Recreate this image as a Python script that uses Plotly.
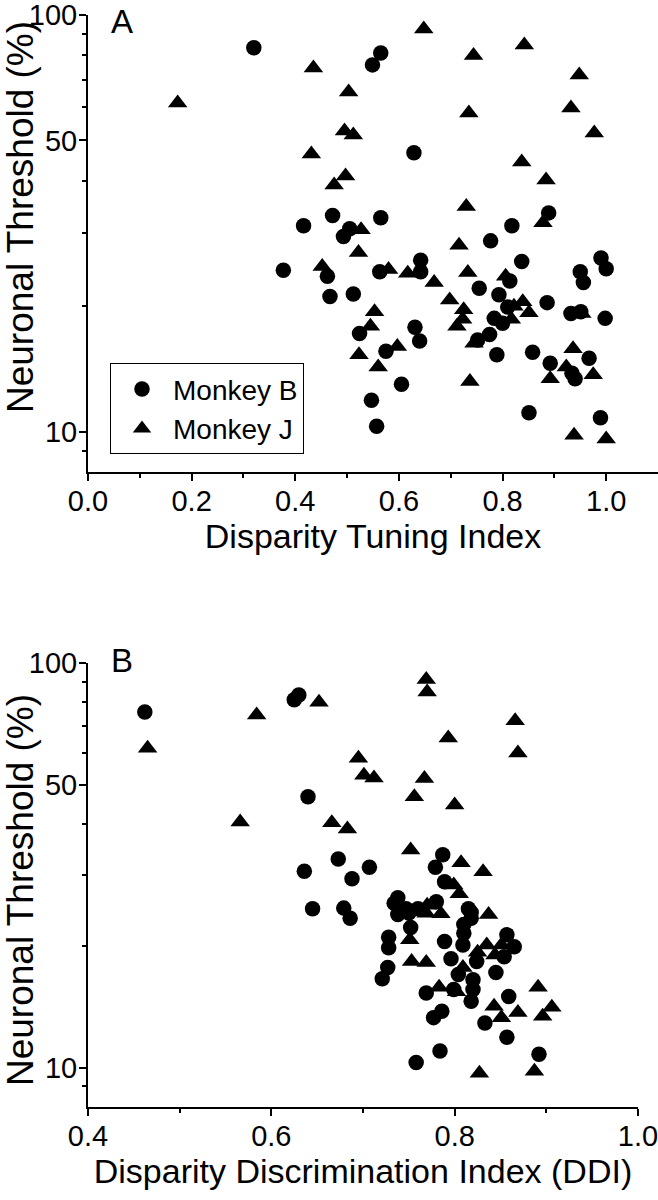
import plotly.graph_objects as go

# ---------------- Data ----------------
# Panel A: Disparity Tuning Index vs Neuronal Threshold
a_monkeyB_x = [0.32, 0.565, 0.549, 0.629, 0.416, 0.472, 0.565, 0.505, 0.493, 0.889, 0.818, 0.777,
               0.377, 0.462, 0.467, 0.512, 0.563, 0.642, 0.642, 0.755, 0.814, 0.837, 0.793, 0.81,
               0.784, 0.8, 0.886, 0.932, 0.951, 0.95, 0.956, 0.99, 1.0, 0.998, 0.524, 0.631, 0.64,
               0.575, 0.605, 0.547, 0.557, 0.752, 0.775, 0.789, 0.858, 0.892, 0.967, 0.934, 0.94,
               0.851, 0.989]
a_monkeyB_y = [83.4, 81.1, 75.9, 46.7, 31.2, 33.0, 32.6, 30.7, 29.4, 33.5, 31.2, 28.7,
               24.4, 23.6, 21.1, 21.4, 24.2, 25.8, 24.2, 22.1, 23.0, 25.6, 21.3, 19.9,
               18.7, 18.2, 20.4, 19.2, 19.4, 24.2, 22.8, 26.1, 24.6, 18.7, 17.2, 17.8, 16.5,
               15.6, 13.0, 11.9, 10.3, 16.6, 17.1, 15.3, 15.5, 14.6, 15.0, 13.8, 13.4,
               11.1, 10.8]
a_monkeyJ_x = [0.173, 0.435, 0.431, 0.475, 0.497, 0.648, 0.744, 0.842, 0.948, 0.503, 0.735, 0.932,
               0.977, 0.495, 0.512, 0.837, 0.884, 0.73, 0.878, 0.527, 0.716, 0.522, 0.452, 0.58,
               0.617, 0.668, 0.698, 0.733, 0.806, 0.839, 0.851, 0.822, 0.817, 0.953, 0.553, 0.545,
               0.597, 0.523, 0.56, 0.712, 0.725, 0.723, 0.745, 0.892, 0.936, 0.923, 0.975, 0.737,
               0.938, 1.0]
a_monkeyJ_y = [61.5, 74.6, 46.4, 39.1, 41.1, 92.6, 80.0, 84.7, 71.8, 65.3, 58.2, 59.8,
               52.1, 52.7, 51.5, 44.4, 40.2, 34.7, 31.7, 30.5, 28.0, 26.9, 24.9, 24.5,
               24.0, 22.8, 20.7, 24.1, 23.6, 20.5, 19.3, 20.0, 18.6, 19.2, 19.4, 17.9,
               16.0, 15.3, 14.3, 17.9, 19.6, 18.6, 16.3, 13.4, 15.8, 14.3, 13.7, 13.2,
               9.8, 9.6]

# Panel B: Disparity Discrimination Index vs Neuronal Threshold
b_monkeyB_x = [0.462, 0.625, 0.630, 0.64, 0.636, 0.673, 0.707, 0.688, 0.645, 0.679, 0.686, 0.787,
               0.779, 0.789, 0.738, 0.734, 0.78, 0.818, 0.738, 0.75, 0.752, 0.728, 0.728, 0.727,
               0.721, 0.789, 0.809, 0.81, 0.81, 0.857, 0.865, 0.854, 0.796, 0.804, 0.82, 0.845,
               0.769, 0.799, 0.82, 0.818, 0.859, 0.786, 0.777, 0.833, 0.857, 0.784, 0.758, 0.892,
               0.747, 0.76, 0.815, 0.818, 0.824]
b_monkeyB_y = [75.7, 81.1, 83.4, 46.7, 30.6, 32.8, 31.3, 29.3, 24.7, 24.8, 23.4, 33.6,
               31.3, 28.8, 26.3, 25.5, 25.7, 24.2, 23.9, 24.1, 22.2, 21.0, 19.8, 17.7,
               16.6, 20.5, 20.1, 21.5, 22.6, 21.3, 19.9, 18.8, 18.6, 17.0, 16.5, 17.2,
               15.3, 15.6, 15.6, 14.6, 15.0, 13.8, 13.3, 12.9, 11.9, 11.0, 10.3, 10.8,
               24.7, 24.7, 24.7, 23.4, 18.3]
b_monkeyJ_x = [0.465, 0.584, 0.652, 0.769, 0.77, 0.866, 0.793, 0.869, 0.695, 0.701, 0.712, 0.767,
               0.756, 0.8, 0.566, 0.666, 0.683, 0.752, 0.807, 0.831, 0.799, 0.805, 0.77, 0.837,
               0.785, 0.769, 0.751, 0.753, 0.769, 0.825, 0.835, 0.851, 0.844, 0.809, 0.783, 0.802,
               0.891, 0.843, 0.869, 0.906, 0.851, 0.896, 0.887, 0.827]
b_monkeyJ_y = [61.6, 74.4, 80.0, 91.0, 84.8, 72.0, 65.3, 59.9, 58.2, 52.8, 52.0, 51.8,
               46.7, 44.6, 40.5, 40.3, 38.9, 34.5, 32.1, 30.5, 28.3, 26.9, 25.2, 23.9,
               24.0, 24.1, 20.7, 18.3, 18.2, 19.3, 20.1, 20.1, 19.0, 17.7, 15.8, 15.4,
               15.8, 14.2, 13.7, 14.1, 13.3, 13.4, 9.8, 9.7]

a_xticks = [0.0, 0.2, 0.4, 0.6, 0.8, 1.0]
a_xtick_text = ["0.0", "0.2", "0.4", "0.6", "0.8", "1.0"]
a_xminor = [0.1, 0.3, 0.5, 0.7, 0.9]
b_xticks = [0.4, 0.6, 0.8, 1.0]
b_xtick_text = ["0.4", "0.6", "0.8", "1.0"]
b_xminor = [0.5, 0.7, 0.9]
yticks = [10, 50, 100]
ytick_text = ["10", "50", "100"]
yminor = [9, 20, 30, 40, 60, 70, 80, 90]

FONT = "Liberation Sans, Arial, sans-serif"
BLACK = "#000000"

fig = go.Figure()
circ = dict(symbol="circle", size=15.5, color=BLACK, line=dict(width=0))
tri = dict(symbol="triangle-up", size=17, color=BLACK, line=dict(width=0))

fig.add_trace(go.Scatter(x=a_monkeyB_x, y=a_monkeyB_y, mode="markers", marker=circ,
                         name="Monkey B", xaxis="x", yaxis="y"))
fig.add_trace(go.Scatter(x=a_monkeyJ_x, y=a_monkeyJ_y, mode="markers", marker=tri,
                         name="Monkey J", xaxis="x", yaxis="y"))
fig.add_trace(go.Scatter(x=b_monkeyB_x, y=b_monkeyB_y, mode="markers", marker=circ,
                         name="Monkey B", showlegend=False, xaxis="x2", yaxis="y2"))
fig.add_trace(go.Scatter(x=b_monkeyJ_x, y=b_monkeyJ_y, mode="markers", marker=tri,
                         name="Monkey J", showlegend=False, xaxis="x2", yaxis="y2"))

tickfont = dict(family=FONT, size=29, color=BLACK)
xtitlefont = dict(family=FONT, size=34, color=BLACK)
ytitlefont = dict(family=FONT, size=37, color=BLACK)

def xaxis_style(rng, tv, tt, minor, title, domain, anchor):
    return dict(range=rng, domain=domain, anchor=anchor, tickmode="array", tickvals=tv, ticktext=tt,
                ticks="outside", ticklen=7, tickwidth=1.5, tickcolor=BLACK, ticklabelstandoff=-5,
                ticklabeloverflow="allow",
                minor=dict(tickmode="array", tickvals=minor, ticks="outside", ticklen=4,
                           tickwidth=1.5, tickcolor=BLACK, showgrid=False),
                showline=True, linewidth=2, linecolor=BLACK, showgrid=False, zeroline=False,
                tickfont=tickfont, title=dict(text=title, font=xtitlefont, standoff=8),
                automargin=False, fixedrange=True)

def yaxis_style(domain, anchor):
    return dict(type="log", range=[0.9031, 2.0], domain=domain, anchor=anchor,
                tickmode="array", tickvals=yticks, ticktext=ytick_text,
                ticks="outside", ticklen=7, tickwidth=1.5, tickcolor=BLACK, ticklabelstandoff=-4,
                ticklabeloverflow="allow",
                minor=dict(tickmode="array", tickvals=yminor, ticks="outside", ticklen=4,
                           tickwidth=1.5, tickcolor=BLACK, showgrid=False),
                showline=True, linewidth=2, linecolor=BLACK, showgrid=False, zeroline=False,
                tickfont=tickfont, automargin=False, fixedrange=True)

ann_font = dict(family=FONT, size=33, color=BLACK)
fig.update_layout(
    width=658, height=1200,
    margin=dict(l=88, r=0, t=15, b=93),
    paper_bgcolor="white", plot_bgcolor="white",
    font=dict(family=FONT, color=BLACK),
    xaxis=xaxis_style([0, 1.1], a_xticks, a_xtick_text, a_xminor, "Disparity Tuning Index",
                      [0, 1], "y"),
    yaxis=yaxis_style([0.5815, 1.0], "x"),
    xaxis2=xaxis_style([0.4, 1.0], b_xticks, b_xtick_text, b_xminor,
                       "Disparity Discrimination Index (DDI)", [0, 0.9649], "y2"),
    yaxis2=yaxis_style([0.0, 0.4066], "x2"),
    legend=dict(x=0.0386, y=0.681, xanchor="left", yanchor="top",
                bordercolor=BLACK, borderwidth=1, bgcolor="white",
                font=dict(family=FONT, size=28, color=BLACK), itemsizing="trace",
                itemwidth=52, tracegroupgap=0),
    showlegend=True,
    annotations=[
        dict(text="A", x=0.0596, y=1.0128, xref="paper", yref="paper", showarrow=False,
             font=ann_font, xanchor="center", yanchor="top"),
        dict(text="B", x=0.0596, y=0.4093, xref="paper", yref="paper", showarrow=False,
             font=ann_font, xanchor="center", yanchor="middle"),
        dict(text="Neuronal Threshold (%)", x=-0.1193, y=0.815, xref="paper", yref="paper",
             showarrow=False, textangle=-90, font=ytitlefont, xanchor="center", yanchor="middle"),
        dict(text="Neuronal Threshold (%)", x=-0.1193, y=0.1987, xref="paper", yref="paper",
             showarrow=False, textangle=-90, font=ytitlefont, xanchor="center", yanchor="middle"),
    ],
)

fig.write_html("out.html", config={"displayModeBar": False},
               post_script="document.body.style.margin='0px';")
